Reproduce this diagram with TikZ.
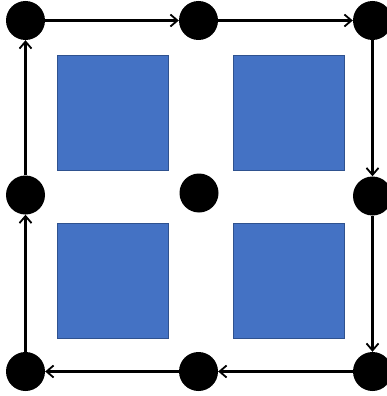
\documentclass[tikz,border=0pt]{standalone}
\usetikzlibrary{arrows.meta}
\definecolor{boxfill}{HTML}{4472C4}
\definecolor{boxedge}{HTML}{2F528F}
\tikzset{
  dot/.style={circle,fill=black,draw=none,minimum size=39pt,inner sep=0pt},
  blk/.style={fill=boxfill,draw=boxedge,line width=0.8pt},
  conn/.style={line width=2.2pt,-{Straight Barb[length=7pt,width=12pt,line width=1.8pt]},shorten >=0pt}
}
\begin{document}
\begin{tikzpicture}[x=1pt,y=-1pt]
\useasboundingbox (0,0) rectangle (387,396);
\fill[white] (0,0) rectangle (387,396);
\draw[blk] (57,55) rectangle (168,170);
\draw[blk] (233,55) rectangle (344,170);
\draw[blk] (57,223) rectangle (168,338);
\draw[blk] (233,223) rectangle (344,338);
\node[dot] (tl) at (25.5,20.5) {};
\node[dot] (tm) at (198.5,20.5) {};
\node[dot] (tr) at (372.5,20.5) {};
\node[dot] (ml) at (25.5,195) {};
\node[dot] (mm) at (199,193) {};
\node[dot] (mr) at (372.5,196) {};
\node[dot] (bl) at (25.5,371.5) {};
\node[dot] (bm) at (198.5,371.5) {};
\node[dot] (br) at (372.5,371.5) {};
\draw[conn] (tl) -- (tm);
\draw[conn] (tm) -- (tr);
\draw[conn] (tr) -- (mr);
\draw[conn] (mr) -- (br);
\draw[conn] (br) -- (bm);
\draw[conn] (bm) -- (bl);
\draw[conn] (bl) -- (ml);
\draw[conn] (ml) -- (tl);
\end{tikzpicture}
\end{document}
